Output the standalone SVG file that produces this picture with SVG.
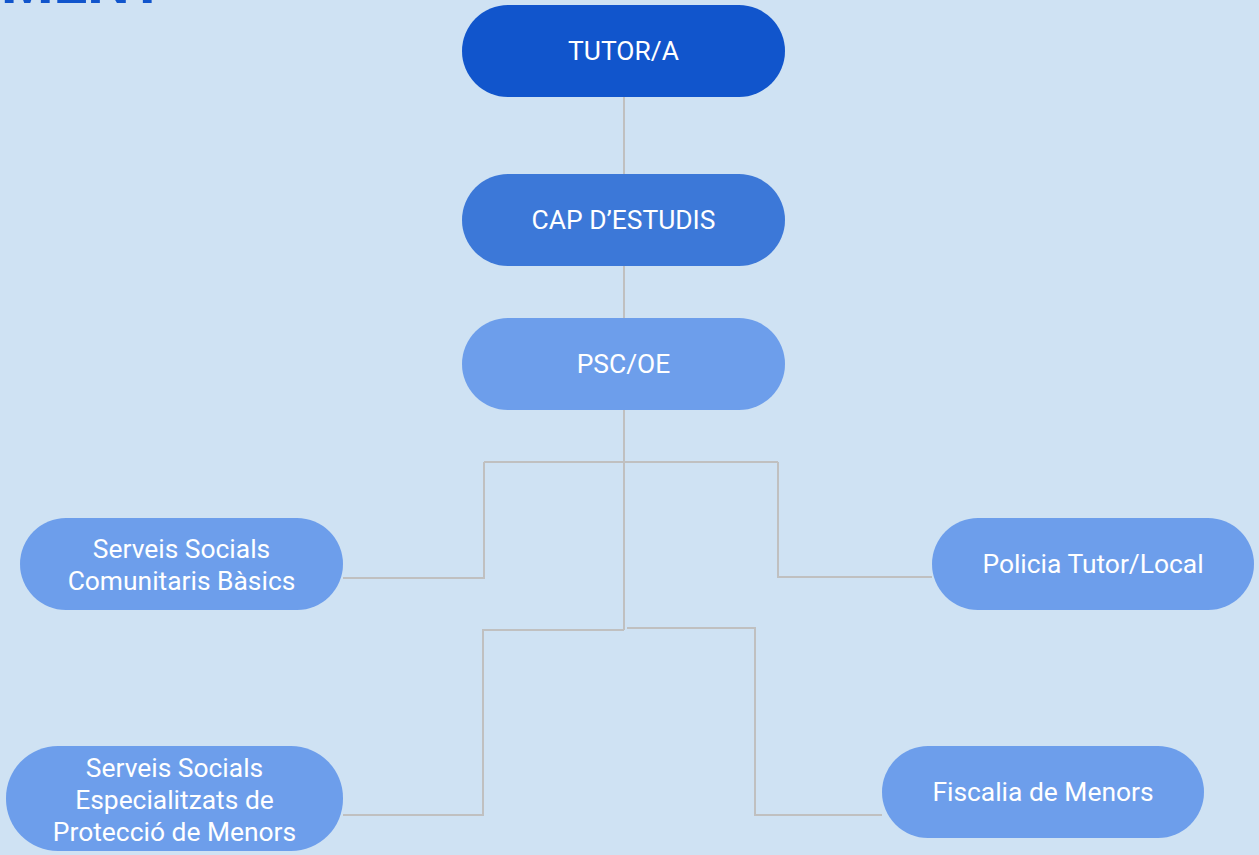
<svg xmlns="http://www.w3.org/2000/svg" width="1259" height="855" viewBox="0 0 1259 855">
<style>
.bg{fill:#cfe2f3}
.t{font-family:Roboto,"Liberation Sans",sans-serif;font-size:26.4px;fill:#ffffff;text-anchor:middle}
.c{fill:none;stroke:#c0c0c0;stroke-width:2}
.n1{fill:#1155cc}
.n2{fill:#3c78d8}
.n3{fill:#6d9eeb}
</style>
<rect class="bg" x="0" y="0" width="1259" height="855"/>
<text x="166" y="3" style="font-family:Roboto,'Liberation Sans',sans-serif;font-size:60px;font-weight:bold;fill:#1155cc;text-anchor:end">MENT</text>
<g id="connectors">
<path class="c" d="M624 97V174"/>
<path class="c" d="M624 266V318"/>
<path class="c" d="M624 410V630"/>
<path class="c" d="M484 462H778"/>
<path class="c" d="M484 462V578H343"/>
<path class="c" d="M778 462V577H932"/>
<path class="c" d="M624 630H483V815H343"/>
<path class="c" d="M627 628H755V815H882"/>
</g>
<g id="tutor">
<rect class="n1" x="462" y="5" width="323" height="92" rx="46"/>
<text class="t" x="623.5" y="60">TUTOR/A</text>
</g>
<g id="cap">
<rect class="n2" x="462" y="174" width="323" height="92" rx="46"/>
<text class="t" x="623.5" y="229">CAP D’ESTUDIS</text>
</g>
<g id="psc">
<rect class="n3" x="462" y="318" width="323" height="92" rx="46"/>
<text class="t" x="623.5" y="373">PSC/OE</text>
</g>
<g id="sscb">
<rect class="n3" x="20" y="518" width="323" height="92" rx="46"/>
<text class="t" x="181.5" y="558">Serveis Socials</text>
<text class="t" x="181.5" y="590">Comunitaris Bàsics</text>
</g>
<g id="policia">
<rect class="n3" x="932" y="518" width="322" height="92" rx="46"/>
<text class="t" x="1093" y="573">Policia Tutor/Local</text>
</g>
<g id="sse">
<rect class="n3" x="6" y="746" width="337" height="105" rx="52"/>
<text class="t" x="174.5" y="777">Serveis Socials</text>
<text class="t" x="174.5" y="809">Especialitzats de</text>
<text class="t" x="174.5" y="841">Protecció de Menors</text>
</g>
<g id="fiscalia">
<rect class="n3" x="882" y="746" width="322" height="92" rx="46"/>
<text class="t" x="1043" y="801">Fiscalia de Menors</text>
</g>
</svg>
